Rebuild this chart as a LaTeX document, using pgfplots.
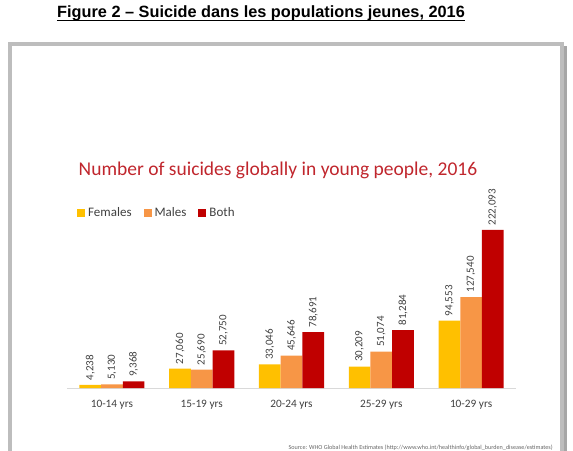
\documentclass[border=0pt]{standalone}
\usepackage{pgfplots}
\pgfplotsset{compat=1.18}
\usepackage{fontspec}
\setmainfont{Carlito}
\newfontfamily\headfont{Liberation Sans}

\definecolor{fem}{HTML}{FFC000}
\definecolor{mal}{HTML}{F79646}
\definecolor{both}{HTML}{C00000}
\definecolor{ttl}{HTML}{C0262D}
\definecolor{lbl}{HTML}{404040}
\definecolor{frm}{HTML}{BDBDBD}

\begin{document}
\begin{tikzpicture}
\useasboundingbox (0,0) rectangle (573pt,450pt);
\clip (0,0) rectangle (573pt,450pt);

% page heading
\node[inner sep=0pt, anchor=base, font=\headfont\bfseries\fontsize{16.3}{20}\selectfont]
  (ft) at (261pt,432.3pt) {Figure 2 – Suicide dans les populations jeunes, 2016};
\draw[line width=1.3pt] ([yshift=-3pt]ft.base west) -- ([yshift=-3pt]ft.base east);

% framed panel
\draw[line width=4pt, frm] (10pt,406pt) rectangle (562pt,-20pt);
\fill[black!35] (564pt,404pt) rectangle (567pt,-20pt);

% chart title
\node[inner sep=0pt, anchor=base, text=ttl, font=\fontsize{19.5}{23}\selectfont]
  at (278pt,274pt) {Number of suicides globally in young people, 2016};

\begin{axis}[
  at={(67pt,62pt)}, anchor=south west,
  scale only axis, width=449pt, height=177.9pt,
  xmin=-0.5, xmax=4.5, ymin=0, ymax=250000,
  clip=false,
  ybar=0pt, bar width=21.7pt,
  axis x line*=bottom, axis y line=none,
  x axis line style={draw=black!15, line width=0.8pt},
  xtick={0,1,2,3,4},
  xticklabels={10-14 yrs, 15-19 yrs, 20-24 yrs, 25-29 yrs, 10-29 yrs},
  major tick length=0pt,
  xticklabel style={font=\fontsize{11.3}{13}\selectfont, text=lbl, yshift=-9pt},
  ytick=\empty,
  nodes near coords,
  every node near coord/.append style={rotate=90, anchor=west,
    font=\fontsize{11}{13}\selectfont, text=lbl, inner sep=4.5pt},
  legend columns=3,
  legend image code/.code={\fill[#1] (0pt,-4pt) rectangle (8pt,4pt);},
  legend style={at={(0.0223,0.984)}, anchor=west, draw=none, fill=none,
    inner sep=0pt, font=\fontsize{13}{15}\selectfont, text=lbl,
    /tikz/every odd column/.append style={column sep=1pt},
    /tikz/every even column/.append style={column sep=10pt}},
  /pgf/number format/fixed,
  /pgf/number format/precision=0,
  /pgf/number format/1000 sep={,},
  /pgf/number format/assume math mode=true,
]
\addplot[fill=fem, draw=none] coordinates {(0,4238) (1,27060) (2,33046) (3,30209) (4,94553)};
\addplot[fill=mal, draw=none] coordinates {(0,5130) (1,25690) (2,45646) (3,51074) (4,127540)};
\addplot[fill=both, draw=none] coordinates {(0,9368) (1,52750) (2,78691) (3,81284) (4,222093)};
\legend{Females, Males, Both}
\end{axis}

% source line
\node[inner sep=0pt, anchor=east, text=black!60, font=\fontsize{6.15}{7}\selectfont]
  at (553pt,2.5pt) {Source: WHO Global Health Estimates (http://www.who.int/healthinfo/global\_burden\_disease/estimates)};
\end{tikzpicture}
\end{document}
